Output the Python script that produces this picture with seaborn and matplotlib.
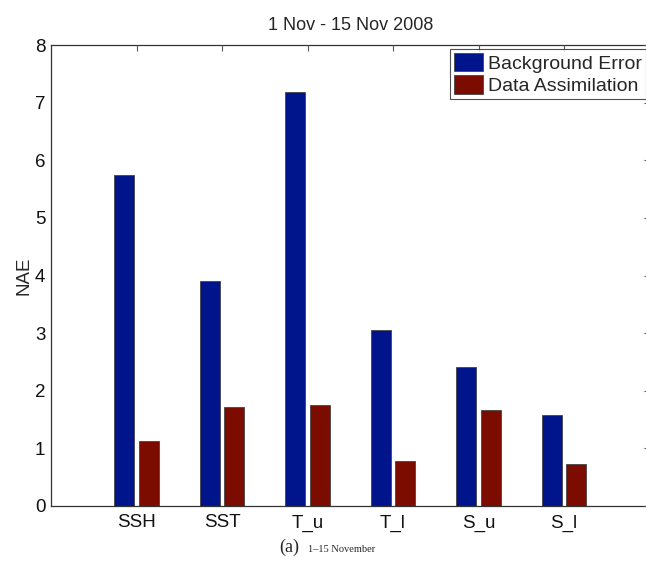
import matplotlib
matplotlib.use("Agg")
import matplotlib.pyplot as plt
import seaborn as sns
import pandas as pd

categories = ["SSH", "SST", "T_u", "T_l", "S_u", "S_l"]
background_error = [5.75, 3.90, 7.18, 3.06, 2.42, 1.58]
data_assimilation = [1.12, 1.71, 1.76, 0.78, 1.66, 0.73]
series_names = ["Background Error", "Data Assimilation"]
colors = ["#00148c", "#7c0b00"]

df = pd.DataFrame({
    "category": categories * 2,
    "series": [series_names[0]] * len(categories) + [series_names[1]] * len(categories),
    "NAE": background_error + data_assimilation,
})

sns.set_theme(style="white")
plt.rcParams["font.family"] = ["Liberation Sans", "DejaVu Sans"]

fig = plt.figure(figsize=(6.46, 5.64), dpi=100)
ax = fig.add_axes([51 / 646, 1 - 506 / 564, (649.5 - 51) / 646, (506 - 45) / 564])

sns.barplot(data=df, x="category", y="NAE", hue="series", hue_order=series_names,
            order=categories, palette=colors, width=0.58, gap=0.19,
            edgecolor="#444444", linewidth=0.6, ax=ax, saturation=1)

ax.set_axisbelow(False)
ax.set_xlim(-1, 6)
ax.set_ylim(0, 8)
ax.set_yticks(range(0, 9))
ax.set_xlabel("")
ax.set_ylabel("NAE", fontsize=13.5, labelpad=2)
ax.set_title("1 Nov - 15 Nov 2008", fontsize=13, pad=11)
ax.tick_params(axis="both", direction="in", length=4, width=0.8, color="#555555",
               top=True, right=True, labelsize=13.5, labelcolor="#111111", pad=4)
ax.tick_params(axis="x", pad=6)
for s in ax.spines.values():
    s.set_visible(True)
    s.set_color("#333333")
    s.set_linewidth(0.9)

handles, labels = ax.get_legend_handles_labels()
leg = ax.legend(handles, labels, loc="upper right", fontsize=14, frameon=True,
                fancybox=False, edgecolor="#222222", borderaxespad=0.2,
                handlelength=1.5, handleheight=1.1, handletextpad=0.25,
                borderpad=0.2, labelspacing=0.12)
leg.get_frame().set_linewidth(0.8)

fig.text(0.432, 0.022, "(a)", fontsize=13, family="Liberation Serif", ha="left", va="baseline")
fig.text(0.477, 0.022, "1\u201315 November", fontsize=7.5, family="Liberation Serif", ha="left", va="baseline")

fig.savefig("out.png", dpi=100)
